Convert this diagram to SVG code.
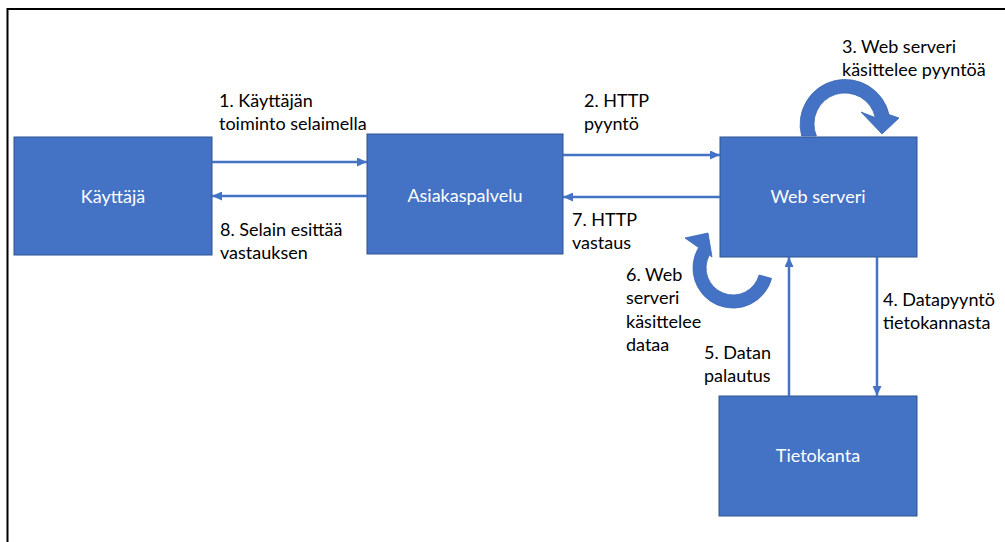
<svg xmlns="http://www.w3.org/2000/svg" width="1005" height="542" viewBox="0 0 1005 542">
  <style>
    .box { fill: #4472C4; stroke: #2F528F; stroke-width: 1; }
    .box-label { font-family: Lato, "Liberation Sans", sans-serif; font-size: 18px; fill: #FFFFFF; text-anchor: middle; }
    .label { font-family: Lato, "Liberation Sans", sans-serif; font-size: 18px; fill: #000000; }
    .link { stroke: #4472C4; stroke-width: 2.5; fill: none; marker-end: url(#head); }
    .loop { fill: #4472C4; stroke: #3A66B3; stroke-width: 0.8; }
  </style>
  <defs>
    <marker id="head" markerUnits="userSpaceOnUse" markerWidth="10" markerHeight="9" refX="10" refY="4.5" orient="auto">
      <path d="M0,0 L10,4.5 L0,9 Z" fill="#4472C4"/>
    </marker>
  </defs>

  <rect width="1005" height="542" fill="#FFFFFF"/>
  <!-- page frame -->
  <path d="M7.5,542 V9 H1005" fill="none" stroke="#000000" stroke-width="2"/>

  <g id="kayttaja">
    <rect class="box" x="14" y="137" width="198" height="118"/>
    <text class="box-label" x="113" y="203">Käyttäjä</text>
  </g>
  <g id="asiakaspalvelu">
    <rect class="box" x="367" y="134" width="196" height="120"/>
    <text class="box-label" x="465" y="202">Asiakaspalvelu</text>
  </g>
  <g id="web-serveri">
    <rect class="box" x="720" y="137" width="197" height="120"/>
    <text class="box-label" x="818" y="203">Web serveri</text>
  </g>
  <g id="tietokanta">
    <rect class="box" x="719" y="396" width="198" height="120"/>
    <text class="box-label" x="818" y="462">Tietokanta</text>
  </g>

  <g id="connectors">
    <line class="link" x1="212" y1="162" x2="367" y2="162"/>
    <line class="link" x1="563" y1="155" x2="720" y2="155"/>
    <line class="link" x1="877" y1="257" x2="877" y2="396"/>
    <line class="link" x1="789" y1="396" x2="789" y2="257"/>
    <line class="link" x1="720" y1="197" x2="563" y2="197"/>
    <line class="link" x1="367" y1="196" x2="212" y2="196"/>
    <!-- circular arrow: request processing -->
    <path class="loop" d="M801.6,136 A45,45 0 1 1 889,114.6 L899,118 L882,134 L861,112 L875.3,117.6 A31,31 0 1 0 816.4,136 Z"/>
    <!-- circular arrow: data processing -->
    <path class="loop" d="M771.6,278.4 A40,40 0 1 1 698.6,247.6 L685,238 L708,233 L712,257 L709.3,255.1 A27,27 0 1 0 759.1,275 Z"/>
  </g>

  <g id="labels">
    <text class="label" x="219" y="107">1. Käyttäjän</text>
    <text class="label" x="219" y="130">toiminto selaimella</text>
    <text class="label" x="584" y="107">2. HTTP</text>
    <text class="label" x="584" y="130">pyyntö</text>
    <text class="label" x="842" y="53">3. Web serveri</text>
    <text class="label" x="842" y="76">käsittelee pyyntöä</text>
    <text class="label" x="883" y="306">4. Datapyyntö</text>
    <text class="label" x="883" y="329">tietokannasta</text>
    <text class="label" x="704" y="359">5. Datan</text>
    <text class="label" x="704" y="382">palautus</text>
    <text class="label" x="626" y="281">6. Web</text>
    <text class="label" x="626" y="304">serveri</text>
    <text class="label" x="626" y="328">käsittelee</text>
    <text class="label" x="626" y="351">dataa</text>
    <text class="label" x="572" y="226">7. HTTP</text>
    <text class="label" x="572" y="249">vastaus</text>
    <text class="label" x="220" y="236">8. Selain esittää</text>
    <text class="label" x="220" y="259">vastauksen</text>
  </g>
</svg>
